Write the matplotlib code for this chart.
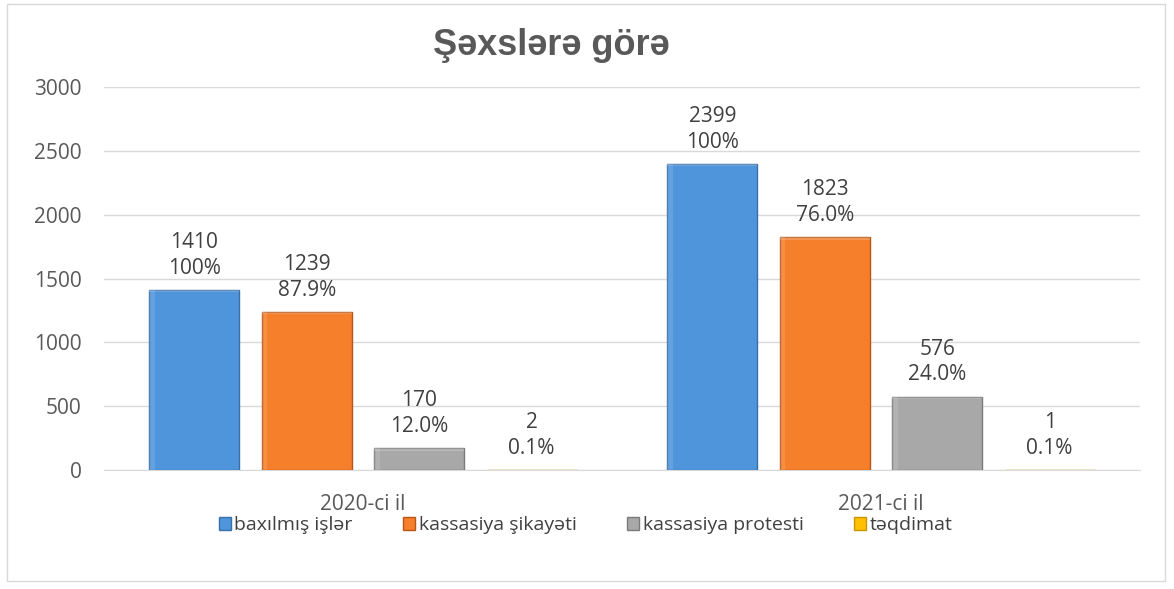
import numpy as np
import matplotlib.pyplot as plt
from matplotlib.patches import Rectangle

years = ["2020-ci il", "2021-ci il"]
series = ["baxılmış işlər", "kassasiya şikayəti", "kassasiya protesti", "təqdimat"]
counts = [
    [1410, 2399],
    [1239, 1823],
    [170, 576],
    [2, 1],
]
shares = [
    ["100%", "100%"],
    ["87.9%", "76.0%"],
    ["12.0%", "24.0%"],
    ["0.1%", "0.1%"],
]
colors = ["#4f95dc", "#f57f2a", "#a8a8a8", "#ffc000"]
edges = ["#3a6fa8", "#b8561a", "#7a7a7a", "#c79500"]

plt.rcParams["font.family"] = ["Open Sans", "DejaVu Sans"]
text_c = "#404040"
fs = 15

fig = plt.figure(figsize=(11.74, 5.89), dpi=100)
ax = fig.add_axes([0.0886, 0.202, 0.8824, 0.650])

x = np.arange(len(years))
step = 0.217
width = 0.174
for i, name in enumerate(series):
    pos = x + (i - 1.5) * step
    bars = ax.bar(pos, counts[i], width, color=colors[i], edgecolor=edges[i],
                  linewidth=1.0, label=name, zorder=3)
    # lighter bevel strip along the top and left of each bar
    for b in bars:
        h = b.get_height()
        if h > 20:
            ax.add_patch(Rectangle((b.get_x(), h - 18), b.get_width(), 18,
                                   color="white", alpha=0.2, lw=0, zorder=4))
            ax.add_patch(Rectangle((b.get_x(), 0), b.get_width() * 0.06, h,
                                   color="white", alpha=0.12, lw=0, zorder=4))
    for xp, v, s in zip(pos, counts[i], shares[i]):
        ax.annotate(f"{v}\n{s}", (xp, v), xytext=(0, 8), textcoords="offset points",
                    ha="center", va="bottom", fontsize=fs, color=text_c,
                    linespacing=1.3, zorder=5)

ax.set_xlim(-0.5, 1.5)
ax.set_ylim(0, 3000)
ax.set_yticks(np.arange(0, 3001, 500))
ax.set_xticks(x)
ax.set_xticklabels(years)
ax.tick_params(axis="both", length=0, labelsize=fs, labelcolor="#595959")
ax.tick_params(axis="y", pad=16)
ax.tick_params(axis="x", pad=17)
ax.grid(axis="y", color="#d9d9d9", linewidth=1.0, zorder=0)
for side in ["top", "right", "left"]:
    ax.spines[side].set_visible(False)
ax.spines["bottom"].set_color("#d9d9d9")

fig.text(0.47, 0.922, "Şəxslərə görə", ha="center", va="center",
         fontsize=26, fontweight="bold", color="#595959",
         family=["Liberation Sans", "DejaVu Sans"])

leg = fig.legend(loc="center", bbox_to_anchor=(0.499, 0.108), ncol=4, frameon=False,
                 fontsize=14, handlelength=0.6, handleheight=0.6, handletextpad=0.2,
                 columnspacing=2.6)
for t in leg.get_texts():
    t.set_color(text_c)

fig.patches.append(Rectangle((7 / 1174, 8 / 589), 1158 / 1174, 577 / 589,
                             transform=fig.transFigure, fill=False,
                             edgecolor="#d9d9d9", linewidth=1.0))

fig.savefig("out.png", dpi=100)
